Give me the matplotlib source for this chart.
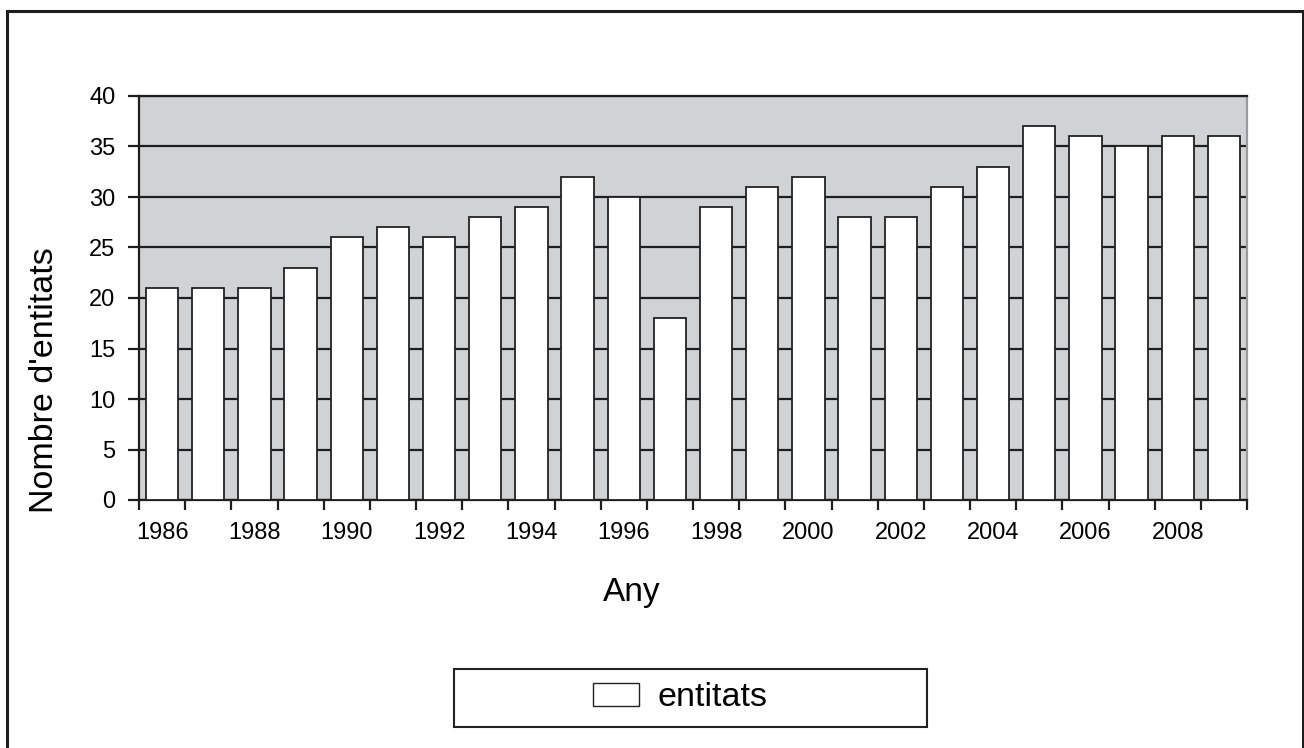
import matplotlib
matplotlib.use("Agg")
import matplotlib.pyplot as plt
from matplotlib.patches import Rectangle, Patch
import numpy as np

plt.rcParams['font.family'] = ['Liberation Sans', 'DejaVu Sans']

years = list(range(1986, 2010))
values = [21, 21, 21, 23, 26, 27, 26, 28, 29, 32, 30, 18,
          29, 31, 32, 28, 28, 31, 33, 37, 36, 35, 36, 36]
yticks = [0, 5, 10, 15, 20, 25, 30, 35, 40]
series_name = "entitats"
xlabel = "Any"
ylabel = "Nombre d'entitats"

W, H = 1304, 748
fig = plt.figure(figsize=(W / 100, H / 100), dpi=100)

# axes placement in pixels
L, R, T, B = 139, 1247, 96, 500
ax = fig.add_axes([L / W, 1 - B / H, (R - L) / W, (B - T) / H])
ax.set_facecolor('#d1d2d4')

x = np.arange(len(years))
ax.bar(x, values, width=0.7, color='white', edgecolor='#222222', linewidth=1.3, zorder=3)

ax.set_ylim(0, 40)
ax.set_xlim(-0.5, len(years) - 0.5)
ax.set_yticks(yticks)
ax.set_yticklabels([str(v) for v in yticks], fontsize=17)
ax.yaxis.grid(True, color='#1e1e1e', linewidth=1.6, zorder=1)
ax.set_axisbelow(True)

# x ticks: marks at category boundaries, labels at even-year centres
ax.set_xticks(np.arange(-0.5, len(years), 1.0))
ax.set_xticklabels([])
ax.set_xticks(x[::2], minor=True)
ax.set_xticklabels([str(y) for y in years[::2]], minor=True, fontsize=17)
ax.tick_params(axis='x', which='major', length=7.5, width=1.6, direction='out', color='#1e1e1e')
ax.tick_params(axis='x', which='minor', length=0, pad=16)
ax.tick_params(axis='y', length=8, width=1.6, direction='out', color='#1e1e1e', pad=9)

for s in ['left', 'bottom', 'top']:
    ax.spines[s].set_color('#1e1e1e')
    ax.spines[s].set_linewidth(1.6)
ax.spines['right'].set_color('#9a9a9a')
ax.spines['right'].set_linewidth(1.6)

fig.text(45 / W, 1 - 380 / H, ylabel, rotation=90, ha='center', va='center', fontsize=24.5)
fig.text(632 / W, 1 - 592 / H, xlabel, ha='center', va='center', fontsize=24)

# legend box
lx0, lx1, ly0, ly1 = 454, 927, 669, 727
fig.patches.append(Rectangle((lx0 / W, 1 - ly1 / H), (lx1 - lx0) / W, (ly1 - ly0) / H,
                             transform=fig.transFigure, facecolor='white',
                             edgecolor='#222222', linewidth=1.5))
handle = Patch(facecolor='white', edgecolor='#222222', linewidth=1.0, label=series_name)
fig.legend(handles=[handle], loc='center', bbox_to_anchor=(680 / W, 1 - (ly0 + ly1) / 2 / H),
           frameon=False, fontsize=24.5, handlelength=1.35, handleheight=0.62, handletextpad=0.55)

# outer border
fig.patches.append(Rectangle((7 / W, -0.01), (1303 - 7) / W, 1.01 - 11 / H,
                             transform=fig.transFigure, facecolor='none',
                             edgecolor='#1e1e1e', linewidth=2.2))

fig.savefig('out.png', dpi=100)
